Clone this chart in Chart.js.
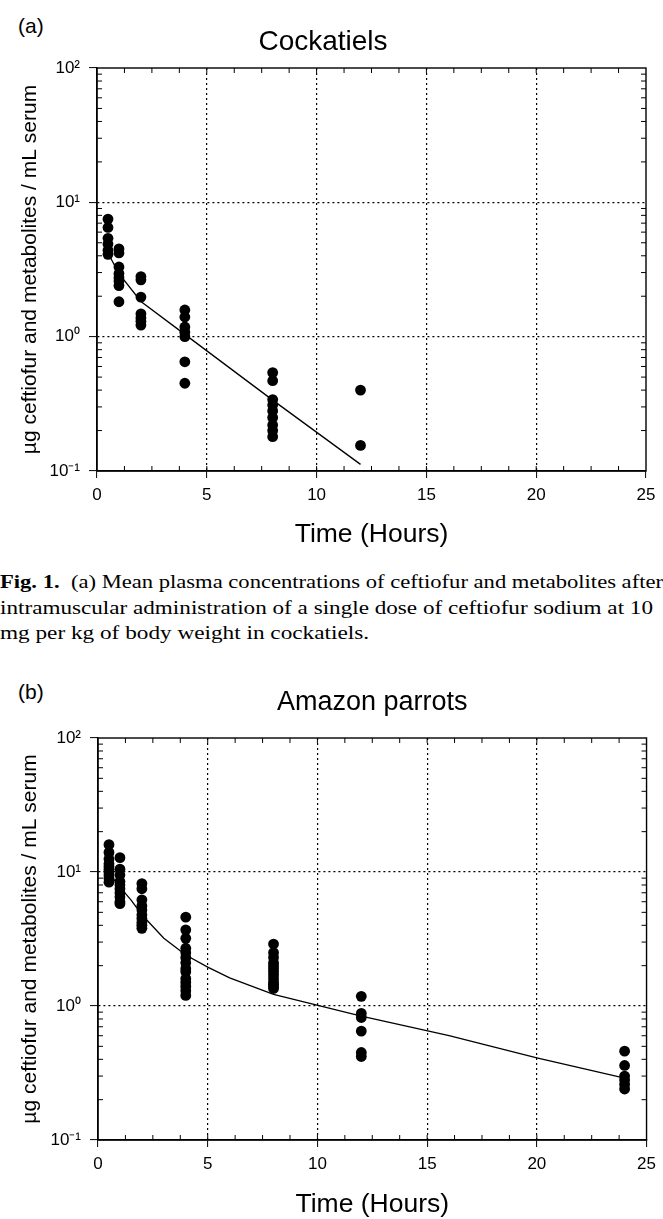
<!DOCTYPE html>
<html>
<head>
<meta charset="utf-8">
<script src="https://cdn.jsdelivr.net/npm/chart.js@4.4.1/dist/chart.umd.min.js"></script>
<style>
  body { margin: 0; background: #fff; width: 663px; height: 1219px; overflow: hidden; position: relative;
         font-family: "Liberation Sans", Arial, sans-serif; color: #000; }
  .panel { position: absolute; left: 0; width: 663px; }
  .tag { position: absolute; left: 18px; font-size: 21px; line-height: 24px; }
  .caption { position: absolute; left: 0; top: 569px; font-family: "Liberation Serif", "Times New Roman", serif;
             font-size: 19.5px; line-height: 25.5px; white-space: nowrap; color: #000; }
  .caption div { transform-origin: 0 50%; display: inline-block; }
</style>
</head>
<body>
<div class="tag" style="top:14px">(a)</div>
<div class="panel" style="top:0;height:560px"><canvas id="chartA"></canvas></div>
<div class="caption" id="caption">
  <div><b>Fig. 1.</b>&nbsp; (a) Mean plasma concentrations of ceftiofur and metabolites after</div><br>
  <div>intramuscular administration of a single dose of ceftiofur sodium at 10</div><br>
  <div>mg per kg of body weight in cockatiels.</div>
</div>
<div class="tag" style="top:680px">(b)</div>
<div class="panel" style="top:660px;height:561px"><canvas id="chartB"></canvas></div>
<script>
// sampling times (hours) and measured concentrations (ug/mL) per time
var cockTimes = [0.5, 1, 2, 4, 8, 12];
var cockConc = [
  [7.5, 6.5, 5.4, 4.9, 4.4, 4.1],
  [4.5, 4.2, 3.3, 2.95, 2.75, 2.6, 2.4, 1.82],
  [2.8, 2.65, 1.97, 1.48, 1.38, 1.3, 1.22],
  [1.58, 1.4, 1.18, 1.08, 1.0, 0.65, 0.45],
  [0.54, 0.47, 0.34, 0.31, 0.28, 0.25, 0.22, 0.2, 0.18],
  [0.4, 0.155]
];
var cockFitTimes = [0.5, 1, 2, 4, 8, 12];
var cockFitConc = [4.2, 2.95, 1.83, 1.04, 0.337, 0.112];

var parrotTimes = [0.5, 1, 2, 4, 8, 12, 24];
var parrotConc = [
  [16, 14, 12.5, 11.5, 11, 10.5, 10, 9.5, 9, 8.4],
  [12.8, 10.5, 9.5, 8.5, 8, 7.5, 7, 6.5, 6, 5.8],
  [8.2, 7.5, 6.2, 5.6, 5.2, 4.8, 4.5, 4.2, 4.0, 3.8],
  [4.6, 3.7, 3.2, 2.7, 2.5, 2.3, 2.1, 1.9, 1.8, 1.6, 1.5, 1.4, 1.3, 1.2],
  [2.9, 2.5, 2.3, 2.1, 2.0, 1.9, 1.8, 1.7, 1.6, 1.5, 1.45, 1.4, 1.35],
  [1.18, 0.88, 0.82, 0.65, 0.45, 0.42],
  [0.46, 0.36, 0.3, 0.28, 0.26, 0.24]
];
var parrotFitTimes = [0.5, 1, 1.5, 2, 3, 4, 5, 6, 8, 12, 16, 20, 24];
var parrotFitConc = [9.8, 7.7, 6.2, 4.8, 3.2, 2.4, 1.95, 1.62, 1.22, 0.84, 0.6, 0.41, 0.29];

var xTicks = [0, 5, 10, 15, 20, 25];
var yTickValues = [0.1, 1, 10, 100];
var yTickLabels = ['10\u207B\u00B9', '10\u2070', '10\u00B9', '10\u00B2'];

function points(times, conc) {
  var out = [];
  times.forEach(function (t, i) {
    conc[i].forEach(function (c) { out.push({x: t, y: c}); });
  });
  return out;
}
function linePoints(times, conc) {
  return times.map(function (t, i) { return {x: t, y: conc[i]}; });
}

// frame round the plot plus the small inward ticks
var frameTicks = {
  id: 'frameTicks',
  afterDraw: function (chart) {
    var ctx = chart.ctx, a = chart.chartArea, x = chart.scales.x, y = chart.scales.y;
    ctx.save();
    ctx.strokeStyle = '#000';
    ctx.lineWidth = 1.4;
    ctx.strokeRect(a.left, a.top, a.right - a.left, a.bottom - a.top);
    ctx.lineWidth = 1;
    ctx.beginPath();
    for (var v = 1.25; v < 25; v += 1.25) {
      var px = x.getPixelForValue(v);
      ctx.moveTo(px, a.bottom); ctx.lineTo(px, a.bottom - 5);
      ctx.moveTo(px, a.top); ctx.lineTo(px, a.top + 5);
    }
    yTickValues.slice(0, -1).forEach(function (d) {
      for (var m = 2; m <= 9; m++) {
        var py = y.getPixelForValue(m * d);
        ctx.moveTo(a.left, py); ctx.lineTo(a.left + 5, py);
        ctx.moveTo(a.right, py); ctx.lineTo(a.right - 5, py);
      }
    });
    ctx.stroke();
    ctx.restore();
  }
};

function makeChart(id, title, pts, fit, geo) {
  return new Chart(document.getElementById(id), {
    type: 'scatter',
    data: {
      datasets: [
        { data: pts, pointRadius: 5.4, pointHoverRadius: 5.4, backgroundColor: '#000', borderWidth: 0, order: 0 },
        { data: fit, showLine: true, pointRadius: 0, borderColor: '#000', borderWidth: 1.3, tension: 0, order: 1 }
      ]
    },
    options: {
      responsive: true,
      maintainAspectRatio: false,
      animation: false,
      layout: { padding: { left: 0, right: geo.right, top: 0, bottom: 0 } },
      plugins: {
        legend: { display: false },
        tooltip: { enabled: false },
        title: {
          display: true, text: title, color: '#000', fullSize: geo.titleFull,
          font: { family: 'Liberation Sans', size: geo.titleSize, weight: 'normal' },
          padding: { top: geo.titleTop, bottom: geo.titleBottom }
        }
      },
      scales: {
        x: {
          type: 'linear', min: 0, max: 25,
          afterBuildTicks: function (s) { s.ticks = xTicks.map(function (v) { return {value: v}; }); },
          afterFit: function (s) { s.height = geo.xHeight; },
          ticks: { color: '#000', font: { family: 'Liberation Sans', size: 17 }, padding: 7, maxRotation: 0 },
          grid: {
            color: function (c) { return (c.tick && c.tick.value > 0 && c.tick.value < 25) ? '#000' : 'rgba(0,0,0,0)'; },
            lineWidth: 1.2, tickLength: 7, tickColor: '#000', tickWidth: 1
          },
          border: { display: true, color: '#000', width: 1.4, dash: [2, 3] },
          title: {
            display: true, text: 'Time (Hours)', color: '#000',
            font: { family: 'Liberation Sans', size: 26.5 }, padding: { top: 0, bottom: geo.xTitlePad }
          }
        },
        y: {
          type: 'logarithmic', min: 0.1, max: 100,
          afterBuildTicks: function (s) { s.ticks = yTickValues.map(function (v) { return {value: v}; }); },
          afterFit: function (s) { s.width = geo.yWidth; },
          ticks: {
            color: '#000', font: { family: 'Liberation Sans', size: 17 }, padding: 9,
            callback: function (v) { return yTickLabels[yTickValues.indexOf(v)]; }
          },
          grid: {
            color: function (c) { return (c.tick && c.tick.value > 0.1 && c.tick.value < 100) ? '#000' : 'rgba(0,0,0,0)'; },
            lineWidth: 1.2, tickLength: 8, tickColor: '#000', tickWidth: 1
          },
          border: { display: true, color: '#000', width: 1.4, dash: [2, 3] },
          title: {
            display: true, text: '\u00B5g ceftiofur and metabolites / mL serum', color: '#000',
            font: { family: 'Liberation Sans', size: 21 }, padding: { top: 17.4, bottom: 0 }
          }
        }
      }
    },
    plugins: [frameTicks]
  });
}

makeChart('chartA', 'Cockatiels', points(cockTimes, cockConc), linePoints(cockFitTimes, cockFitConc),
  { right: 17, titleFull: true, titleSize: 28, titleTop: 25.2, titleBottom: 9.2, xHeight: 89, xTitlePad: 9, yWidth: 97 });
makeChart('chartB', 'Amazon parrots', points(parrotTimes, parrotConc), linePoints(parrotFitTimes, parrotFitConc),
  { right: 16, titleFull: false, titleSize: 27, titleTop: 26.8, titleBottom: 18.8, xHeight: 81, xTitlePad: 0, yWidth: 98 });

// stretch each caption line to the width it has in the scan
var captionWidths = [663, 653, 369];
var lines = document.querySelectorAll('#caption div');
lines.forEach(function (el, i) {
  el.style.transform = 'scaleX(' + (captionWidths[i] / el.getBoundingClientRect().width) + ')';
});
</script>
</body>
</html>
